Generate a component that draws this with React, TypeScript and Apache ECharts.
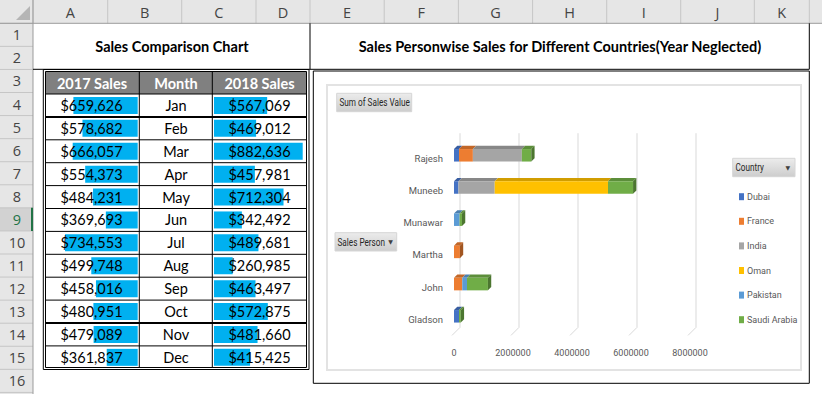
import React, { useEffect, useRef } from 'react';
import * as echarts from 'echarts';

// ---------- data ----------
const columnLetters = ['A', 'B', 'C', 'D', 'E', 'F', 'G', 'H', 'I', 'J', 'K'];
const rowNumbers = [1, 2, 3, 4, 5, 6, 7, 8, 9, 10, 11, 12, 13, 14, 15, 16];

const tableTitle = 'Sales Comparison Chart';
const chartTitle = 'Sales Personwise Sales for Different Countries(Year Neglected)';
const tableHeaders = ['2017 Sales', 'Month', '2018 Sales'];

const months = ['Jan', 'Feb', 'Mar', 'Apr', 'May', 'Jun', 'Jul', 'Aug', 'Sep', 'Oct', 'Nov', 'Dec'];
const sales2017 = [659626, 578682, 666057, 554373, 484231, 369693, 734553, 499748, 458016, 480951, 479089, 361837];
const sales2018 = [567069, 469012, 882636, 457981, 712304, 342492, 489681, 260985, 463497, 572875, 481660, 415425];

const salesPersons = ['Gladson', 'John', 'Martha', 'Munawar', 'Muneeb', 'Rajesh'];
const countries = ['Dubai', 'France', 'India', 'Oman', 'Pakistan', 'Saudi Arabia'];
const dubai = [170000, 0, 0, 0, 150000, 170000];
const france = [0, 280000, 200000, 0, 0, 470000];
const india = [0, 0, 0, 0, 1230000, 1660000];
const oman = [0, 0, 0, 0, 3840000, 0];
const pakistan = [0, 160000, 0, 190000, 0, 0];
const saudiArabia = [60000, 710000, 0, 80000, 850000, 320000];
const xTicks = [0, 2000000, 4000000, 6000000, 8000000];

const pivotValueField = 'Sum of Sales Value';
const pivotRowField = 'Sales Person';
const pivotLegendField = 'Country';

// ---------- styles / layout ----------
const countryColors = ['#4472C4', '#ED7D31', '#A5A5A5', '#FFC000', '#5B9BD5', '#70AD47'];
const DATABAR = '#00B0F0';
const COL_EDGES = [33, 107.7, 181.7, 256, 310, 384.2, 458.4, 532.6, 606.7, 680.7, 754.3, 809.3];
const HEADER_H = 23.3;
const ROW_H = 23.07;
const BODY_TOP = 94;
const BODY_ROW = 22.9;
const CELL_FONT = "Lato, 'Open Sans', sans-serif";
const HEAD_FONT = "'Open Sans', 'Noto Sans', sans-serif";
const CHART_FONT = "Roboto, 'Liberation Sans', sans-serif";

const shade = (hex: string, f: number) => {
  const n = parseInt(hex.slice(1), 16);
  const r = Math.round(((n >> 16) & 255) * f);
  const g = Math.round(((n >> 8) & 255) * f);
  const b = Math.round((n & 255) * f);
  return `rgb(${r},${g},${b})`;
};
const fmt = (v: number) => '$' + v.toLocaleString('en-US');

const txt = (x: number, y: number, text: string, o: any = {}) => ({
  type: 'text',
  x,
  y,
  scaleX: o.scaleX ?? 1,
  silent: true,
  z: o.z ?? 5,
  style: {
    text,
    fill: o.fill ?? '#000',
    fontSize: o.fontSize ?? 14,
    fontFamily: o.fontFamily ?? CELL_FONT,
    fontWeight: o.fontWeight ?? 'normal',
    align: o.align ?? 'center',
    textAlign: o.align ?? 'center',
    verticalAlign: 'middle',
    textVerticalAlign: 'middle',
  },
});
const ln = (x1: number, y1: number, x2: number, y2: number, stroke: string, lineWidth = 1, z = 1) => ({
  type: 'line',
  silent: true,
  z,
  shape: { x1, y1, x2, y2 },
  style: { stroke, lineWidth },
});
const rc = (x: number, y: number, width: number, height: number, style: any, z = 0) => ({
  type: 'rect',
  silent: true,
  z,
  shape: { x, y, width, height },
  style,
});

function buildGraphics() {
  const els: any[] = [];
  const rowTop = (n: number) => HEADER_H + (n - 1) * ROW_H;
  // sheet headers
  els.push(rc(0, 0, 822, HEADER_H, { fill: '#e6e6e6' }));
  els.push(rc(0, HEADER_H, 33, 394 - HEADER_H, { fill: '#e6e6e6' }));
  els.push(rc(0, rowTop(9), 33, ROW_H, { fill: '#d2d2d2' }));
  els.push(ln(32, rowTop(9), 32, rowTop(10), '#217346', 2, 3));
  COL_EDGES.forEach((x) => els.push(ln(x, 0, x, HEADER_H, '#c6c6c6')));
  for (let n = 1; n <= 17; n++) els.push(ln(0, rowTop(n), 33, rowTop(n), '#c6c6c6'));
  els.push(ln(0, HEADER_H, 822, HEADER_H, '#9b9b9b'));
  els.push(ln(33, 0, 33, 394, '#9b9b9b'));
  els.push({ type: 'polygon', silent: true, z: 2, shape: { points: [[16, 20], [30, 6], [30, 20]] }, style: { fill: '#b5b5b5' } });
  columnLetters.forEach((L, i) =>
    els.push(txt((COL_EDGES[i] + COL_EDGES[i + 1]) / 2, 12, L, { fontFamily: HEAD_FONT, fontSize: 14.5, fill: '#444' }))
  );
  rowNumbers.forEach((n) =>
    els.push(
      txt(17, rowTop(n) + ROW_H / 2, String(n), {
        fontFamily: HEAD_FONT,
        fontSize: 14.5,
        fill: n === 9 ? '#217346' : '#444',
      })
    )
  );

  // titles
  els.push(txt(172, 46.5, tableTitle, { fontWeight: 'bold', fontSize: 14.5 }));
  els.push(txt(560, 46.5, chartTitle, { fontWeight: 'bold', fontSize: 14.5 }));
  els.push(ln(310, HEADER_H, 310, 69.3, '#000'));
  els.push(ln(809.3, HEADER_H, 809.3, 69.3, '#000'));
  els.push(ln(33, 69.3, 809.3, 69.3, '#000'));

  // table
  els.push(rc(45.5, 71.5, 261, 22.5, { fill: '#808080' }));
  els.push(rc(43.3, 69.5, 265.7, 300, { fill: 'none', stroke: '#000', lineWidth: 1 }, 2));
  els.push(rc(45.5, 71.5, 261, 296, { fill: 'none', stroke: '#000', lineWidth: 1 }, 2));
  els.push(ln(45.5, BODY_TOP, 306.5, BODY_TOP, '#000'));
  for (let i = 1; i < 12; i++) {
    const y = BODY_TOP + i * BODY_ROW;
    els.push(ln(45.5, y, 306.5, y, '#000', i === 1 || i === 10 ? 2 : 1));
  }
  [139.3, 212.3].forEach((x) => els.push(ln(x, 71.5, x, 367.5, '#000')));
  const headCenters = [92, 176, 259.5];
  tableHeaders.forEach((h, i) => els.push(txt(headCenters[i], 83, h, { fontWeight: 'bold', fill: '#fff', fontSize: 14.5 })));

  // chart box
  els.push(rc(313.3, 71, 496, 312.3, { fill: 'none', stroke: '#000', lineWidth: 1 }, 2));
  els.push(rc(327, 85, 474, 285, { fill: 'none', stroke: '#e3e3e3', lineWidth: 2 }, 1));

  // pivot field buttons
  const btnFill = new echarts.graphic.LinearGradient(0, 0, 0, 1, [
    { offset: 0, color: '#ececec' },
    { offset: 1, color: '#cdcdcd' },
  ]);
  const btnText = { align: 'left', fontFamily: CHART_FONT, fontSize: 10.5, fill: '#262626', scaleX: 0.78 };
  els.push(rc(336.7, 93.3, 75, 18.4, { fill: btnFill, stroke: '#d6d6d6', lineWidth: 1 }, 2));
  els.push(txt(339.5, 102.5, pivotValueField, btnText));
  els.push(rc(335, 232.7, 61.7, 18.3, { fill: btnFill, stroke: '#d6d6d6', lineWidth: 1 }, 2));
  els.push(txt(337.5, 242, pivotRowField, btnText));
  els.push(txt(390.5, 241.5, '▼', { fontFamily: 'DejaVu Sans', fontSize: 6, fill: '#404040' }));
  els.push(rc(732.7, 158.3, 62.3, 18.4, { fill: btnFill, stroke: '#d6d6d6', lineWidth: 1 }, 2));
  els.push(txt(735.5, 167.5, pivotLegendField, btnText));
  els.push(txt(787.7, 167, '▼', { fontFamily: 'DejaVu Sans', fontSize: 6, fill: '#404040' }));
  return els;
}

function buildBarSeries() {
  const seriesValues = [dubai, france, india, oman, pakistan, saudiArabia];
  const starts = salesPersons.map(() => 0);
  const lastIdx = salesPersons.map((_, p) => {
    let l = -1;
    seriesValues.forEach((s, c) => {
      if (s[p] > 0) l = c;
    });
    return l;
  });
  return countries.map((name, c) => {
    const data: number[][] = [];
    salesPersons.forEach((_, p) => {
      const v = seriesValues[c][p];
      const s = starts[p];
      starts[p] += v;
      if (v > 0) data.push([s, s + v, p, lastIdx[p] === c ? 1 : 0]);
    });
    const col = countryColors[c];
    return {
      type: 'custom',
      name,
      xAxisIndex: 2,
      yAxisIndex: 3,
      z: 4,
      silent: true,
      itemStyle: { color: col },
      encode: { x: [0, 1], y: 2 },
      data,
      renderItem: (params: any, api: any) => {
        const a = api.coord([api.value(0), api.value(2)]);
        const b = api.coord([api.value(1), api.value(2)]);
        const h = 12.5;
        const d = 3.3;
        const yc = a[1] - 3;
        const y0 = yc - h / 2;
        const y1 = yc + h / 2;
        const x0 = a[0];
        const x1 = b[0];
        const children: any[] = [
          {
            type: 'polygon',
            shape: { points: [[x0, y0], [x1, y0], [x1 + d, y0 - d], [x0 + d, y0 - d]] },
            style: { fill: shade(col, 0.82) },
          },
          { type: 'rect', shape: { x: x0, y: y0, width: x1 - x0, height: h }, style: { fill: col } },
        ];
        if (api.value(3) === 1) {
          children.push({
            type: 'polygon',
            shape: { points: [[x1, y0], [x1 + d, y0 - d], [x1 + d, y1 - d], [x1, y1]] },
            style: { fill: shade(col, 0.68) },
          });
        }
        return { type: 'group', children };
      },
    };
  });
}

export default function App() {
  const ref = useRef<HTMLDivElement>(null);
  useEffect(() => {
    if (!ref.current) return;
    const chart = echarts.init(ref.current, undefined, { renderer: 'svg' });
    const hiddenAxisBits = {
      axisLine: { show: false, onZero: false },
      axisTick: { show: false },
      splitLine: { show: false },
    };
    const option: any = {
      animation: false,
      backgroundColor: '#fff',
      graphic: { elements: buildGraphics() },
      grid: [
        { left: 45.5, top: BODY_TOP, width: 92.2, height: BODY_ROW * 12 },
        { left: 214, top: BODY_TOP, width: 91, height: BODY_ROW * 12 },
        { left: 454, top: 142.2, width: 236, height: 193.2 },
      ],
      xAxis: [
        { gridIndex: 0, type: 'value', min: 85000, max: 909000, inverse: true, show: false },
        { gridIndex: 1, type: 'value', min: 95000, max: 903000, show: false },
        {
          gridIndex: 2,
          type: 'value',
          min: 0,
          max: 8000000,
          interval: 2000000,
          ...hiddenAxisBits,
          axisLabel: {
            color: '#595959',
            fontSize: 9,
            fontFamily: CHART_FONT,
            margin: 13,
            formatter: (v: number) => String(v),
          },
        },
      ],
      yAxis: [
        {
          gridIndex: 0,
          type: 'category',
          data: months,
          inverse: true,
          position: 'left',
          z: 10,
          ...hiddenAxisBits,
          axisLabel: {
            interval: 0,
            formatter: (_v: string, i: number) => fmt(sales2017[i]),
            align: 'center',
            margin: -46,
            fontSize: 14.5,
            fontFamily: CELL_FONT,
            color: '#000',
          },
        },
        {
          gridIndex: 1,
          type: 'category',
          data: months,
          inverse: true,
          position: 'left',
          z: 10,
          ...hiddenAxisBits,
          axisLabel: { interval: 0, align: 'center', margin: 38, fontSize: 14.5, fontFamily: CELL_FONT, color: '#000' },
        },
        {
          gridIndex: 1,
          type: 'category',
          data: months,
          inverse: true,
          position: 'right',
          z: 10,
          ...hiddenAxisBits,
          axisLabel: {
            interval: 0,
            formatter: (_v: string, i: number) => fmt(sales2018[i]),
            align: 'center',
            margin: -45.5,
            fontSize: 14.5,
            fontFamily: CELL_FONT,
            color: '#000',
          },
        },
        {
          gridIndex: 2,
          type: 'category',
          data: salesPersons,
          ...hiddenAxisBits,
          axisLabel: { interval: 0, color: '#595959', fontSize: 9.5, fontFamily: CHART_FONT, margin: 11 },
        },
      ],
      legend: {
        data: countries,
        orient: 'vertical',
        left: 734,
        top: 185.7,
        icon: 'rect',
        itemWidth: 5,
        itemHeight: 7,
        itemGap: 12.6,
        selectedMode: false,
        textStyle: { color: '#595959', fontSize: 9, fontFamily: CHART_FONT, lineHeight: 12, padding: [0, 0, 0, -2] },
      },
      series: [
        {
          type: 'bar',
          xAxisIndex: 0,
          yAxisIndex: 0,
          data: sales2017,
          barWidth: 17,
          silent: true,
          itemStyle: { color: DATABAR },
        },
        {
          type: 'bar',
          xAxisIndex: 1,
          yAxisIndex: 1,
          data: sales2018,
          barWidth: 17,
          silent: true,
          itemStyle: { color: DATABAR },
        },
        {
          type: 'custom',
          xAxisIndex: 2,
          yAxisIndex: 3,
          z: 1,
          silent: true,
          encode: { x: 0, y: 1 },
          data: xTicks.map((v) => [v, 0]),
          renderItem: (params: any, api: any) => {
            const cs = params.coordSys;
            const p = api.coord([api.value(0), 0]);
            const x = p[0];
            return {
              type: 'polyline',
              shape: {
                points: [
                  [x + 6, cs.y - 9],
                  [x + 6, cs.y + cs.height - 8],
                  [x - 2, cs.y + cs.height],
                ],
              },
              style: { stroke: '#d9d9d9', lineWidth: 1, fill: 'none' },
            };
          },
        },
        ...buildBarSeries(),
      ],
    };
    chart.setOption(option);
    return () => chart.dispose();
  }, []);
  return (
    <div
      ref={ref}
      style={{ position: 'fixed', left: 0, top: 0, width: 822, height: 394, background: '#fff' }}
    />
  );
}
